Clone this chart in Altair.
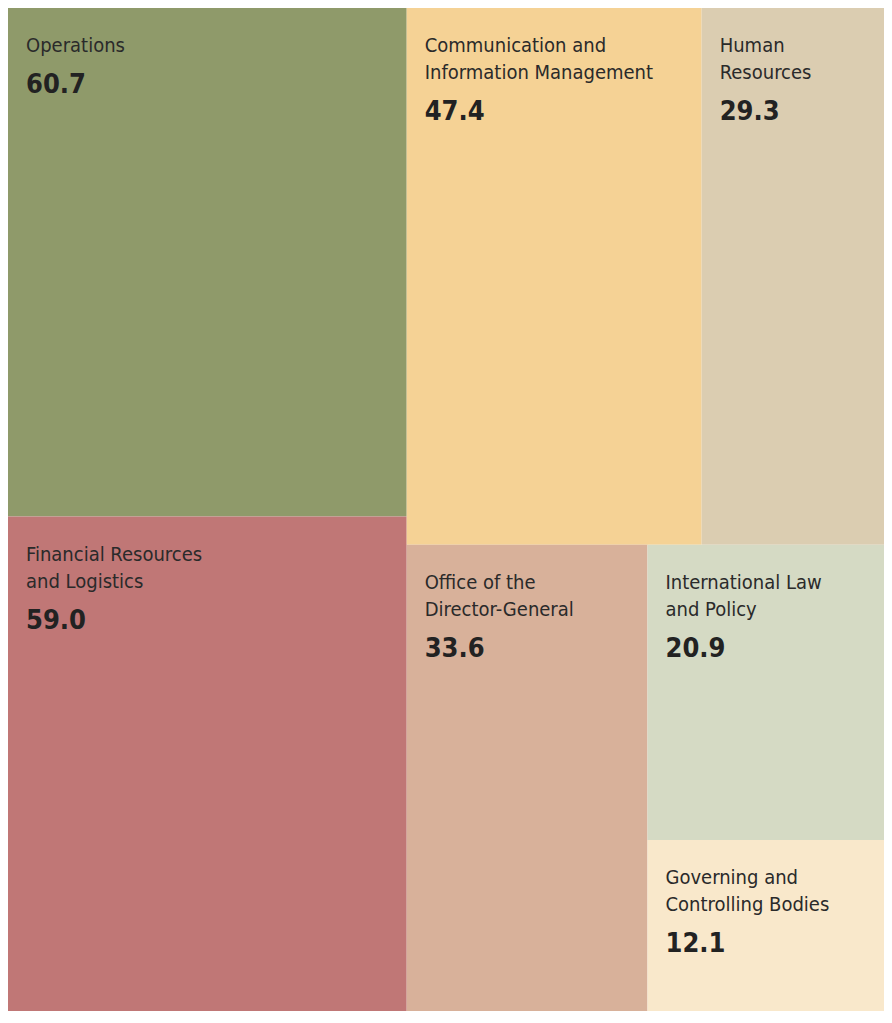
import altair as alt
import pandas as pd

# Data
names = ["Operations", "Financial Resources and Logistics",
         "Communication and Information Management", "Human Resources",
         "Office of the Director-General", "International Law and Policy",
         "Governing and Controlling Bodies"]
labels = ["Operations", "Financial Resources\nand Logistics",
          "Communication and\nInformation Management", "Human\nResources",
          "Office of the\nDirector-General", "International Law\nand Policy",
          "Governing and\nControlling Bodies"]
values = [60.7, 59.0, 47.4, 29.3, 33.6, 20.9, 12.1]
colors = ["#8f9a6a", "#c07776", "#f5d295", "#dbcdb1", "#d8b19a", "#d5dac4", "#f9e8cb"]

W, H = 876, 1003

# Slice-and-dice treemap layout (same nesting as the original) computed from values
ops, fin, com, hr, odg, il, gov = values
total = sum(values)
left_w = (ops + fin) / total
right = total - ops - fin
top_h = (com + hr) / right
com_w = com / (com + hr)
bottom = odg + il + gov
odg_w = odg / bottom
il_h = il / (il + gov)

rects = []
rects.append((0, left_w, 0, ops / (ops + fin)))
rects.append((0, left_w, ops / (ops + fin), 1))
rects.append((left_w, left_w + (1 - left_w) * com_w, 0, top_h))
rects.append((left_w + (1 - left_w) * com_w, 1, 0, top_h))
xm = left_w + (1 - left_w) * odg_w
rects.append((left_w, xm, top_h, 1))
ym = top_h + (1 - top_h) * il_h
rects.append((xm, 1, top_h, ym))
rects.append((xm, 1, ym, 1))

df = pd.DataFrame({
    "name": names,
    "label": labels,
    "value": values,
    "vtext": [f"{v:.1f}" for v in values],
    "lines": [l.count("\n") + 1 for l in labels],
    "x0": [r[0] for r in rects], "x1": [r[1] for r in rects],
    "y0": [r[2] for r in rects], "y1": [r[3] for r in rects],
})

xs = alt.Scale(domain=[0, 1], range=[0, W], nice=False, zero=False)
ys = alt.Scale(domain=[0, 1], range=[0, H], nice=False, zero=False)
FONT = "'Liberation Sans Narrow', 'DejaVu Sans Condensed', 'Roboto Condensed', Roboto, sans-serif"

base = alt.Chart(df)
rect = base.mark_rect(stroke=None).encode(
    x=alt.X("x0:Q", scale=xs, axis=None),
    x2="x1:Q",
    y=alt.Y("y0:Q", scale=ys, axis=None),
    y2="y1:Q",
    color=alt.Color("name:N", scale=alt.Scale(domain=names, range=colors), legend=None),
)
label = base.mark_text(align="left", baseline="top", dx=18, dy=28, font=FONT,
                       fontSize=20, color="#2a2a2a", lineBreak="\n", lineHeight=27).encode(
    x=alt.X("x0:Q", scale=xs), y=alt.Y("y0:Q", scale=ys), text="label:N")
val1 = base.transform_filter("datum.lines == 1").mark_text(
    align="left", baseline="top", dx=18, dy=64, font=FONT, fontSize=27,
    fontWeight="bold", color="#222222").encode(
    x=alt.X("x0:Q", scale=xs), y=alt.Y("y0:Q", scale=ys), text="vtext:N")
val2 = base.transform_filter("datum.lines == 2").mark_text(
    align="left", baseline="top", dx=18, dy=91, font=FONT, fontSize=27,
    fontWeight="bold", color="#222222").encode(
    x=alt.X("x0:Q", scale=xs), y=alt.Y("y0:Q", scale=ys), text="vtext:N")

chart = alt.layer(rect, label, val1, val2).properties(
    width=W, height=H, padding=0,
    autosize=alt.AutoSizeParams(type="none"),
).configure_view(stroke=None)

chart.save("out.html", embed_options={"renderer": "svg", "actions": False})
